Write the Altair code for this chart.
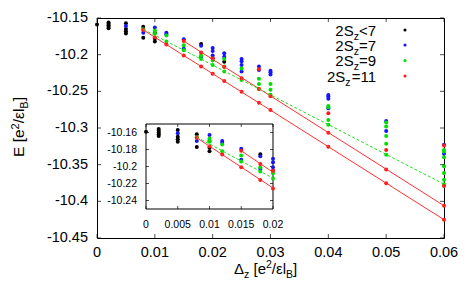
import altair as alt
import pandas as pd

FONT = "Liberation Sans"

# ---------------- data ----------------
series_names = ["2Sz<7", "2Sz=7", "2Sz=9", "2Sz=11"]
series_colors = ["#000000", "#1414ff", "#00e000", "#ff1a1a"]

black_x = [0, 0.002, 0.002, 0.002, 0.002, 0.002, 0.005, 0.005, 0.005, 0.005,
           0.008, 0.008, 0.01, 0.01, 0.01, 0.018, 0.02, 0.022]
black_E = [-10.159, -10.156, -10.158, -10.160, -10.162, -10.164, -10.157, -10.165, -10.168, -10.171,
           -10.162, -10.177, -10.170, -10.178, -10.182, -10.1855, -10.205, -10.2095]

blue_x = [0.005, 0.008, 0.01, 0.012, 0.012, 0.015, 0.015, 0.018, 0.018, 0.02, 0.02, 0.02,
          0.022, 0.022, 0.025, 0.025, 0.025, 0.025, 0.028, 0.028, 0.03, 0.03, 0.03,
          0.04, 0.04, 0.04, 0.04, 0.05, 0.05, 0.06, 0.06]
blue_E = [-10.161, -10.170, -10.163, -10.170, -10.172, -10.179, -10.192, -10.188, -10.203,
          -10.191, -10.195, -10.201, -10.198, -10.203, -10.206, -10.209, -10.214, -10.223,
          -10.216, -10.221, -10.222, -10.224, -10.227, -10.255, -10.257, -10.260, -10.273,
          -10.2905, -10.304, -10.323, -10.335]

green_x = [0.008, 0.01, 0.01, 0.012, 0.012, 0.015, 0.015, 0.018, 0.018, 0.02, 0.02,
           0.022, 0.022, 0.022, 0.025, 0.025, 0.028, 0.028, 0.028, 0.03, 0.03, 0.03,
           0.04, 0.04, 0.04, 0.04, 0.05, 0.05, 0.05, 0.05, 0.05,
           0.06, 0.06, 0.06, 0.06, 0.06, 0.06, 0.06]
green_E = [-10.1655, -10.167, -10.171, -10.174, -10.182, -10.187, -10.194, -10.201, -10.206,
           -10.208, -10.214, -10.206, -10.216, -10.223, -10.219, -10.2345, -10.233, -10.240,
           -10.2467, -10.240, -10.248, -10.2548, -10.270, -10.2716, -10.289, -10.2955,
           -10.2926, -10.298, -10.311, -10.3216, -10.3365,
           -10.330, -10.332, -10.340, -10.352, -10.3615, -10.3706, -10.3766]

red_x = [0.008, 0.01, 0.012, 0.015, 0.015, 0.018, 0.018, 0.02, 0.02, 0.022, 0.022,
         0.025, 0.025, 0.028, 0.028, 0.028, 0.03, 0.03, 0.04, 0.04, 0.04,
         0.05, 0.05, 0.05, 0.06, 0.06, 0.06, 0.06]
red_E = [-10.1663, -10.1763, -10.186, -10.1815, -10.201, -10.197, -10.216, -10.205, -10.226,
         -10.2168, -10.236, -10.232, -10.2505, -10.220, -10.2467, -10.2656, -10.2567, -10.2753,
         -10.280, -10.3066, -10.3255, -10.330, -10.3565, -10.3753, -10.324, -10.379, -10.406, -10.425]

# linear fits (main panel)
fit_lower_x = [0.008, 0.06]
fit_lower_E = [-10.1663, -10.425]
fit_upper_x = [0.015, 0.06]
fit_upper_E = [-10.1815, -10.406]
fit_green_x = [0.008, 0.06]
fit_green_E = [-10.1655, -10.3766]

# same fits as drawn inside the inset (0 .. 0.02)
inset_lower_x = [0.008, 0.02]
inset_lower_E = [-10.1663, -10.2253]
inset_upper_x = [0.015, 0.02]
inset_upper_E = [-10.1815, -10.2068]
inset_green_x = [0.008, 0.02]
inset_green_E = [-10.1655, -10.2137]

x_ticks = [0, 0.01, 0.02, 0.03, 0.04, 0.05, 0.06]
x_tick_labels = ["0", "0.01", "0.02", "0.03", "0.04", "0.05", "0.06"]
y_ticks = [-10.45, -10.4, -10.35, -10.3, -10.25, -10.2, -10.15]
y_tick_labels = ["-10.45", "-10.4", "-10.35", "-10.3", "-10.25", "-10.2", "-10.15"]

inset_x_ticks = [0, 0.005, 0.01, 0.015, 0.02]
inset_x_tick_labels = ["0", "0.005", "0.01", "0.015", "0.02"]
inset_y_ticks = [-10.24, -10.22, -10.2, -10.18, -10.16]
inset_y_tick_labels = ["-10.24", "-10.22", "-10.2", "-10.18", "-10.16"]

legend_rows = [("2S", "z", "<7"), ("2S", "z", "=7"), ("2S", "z", "=9"), ("2S", "z", "=11")]

# ---------------- tables ----------------
pts = pd.concat([
    pd.DataFrame({"x": black_x, "E": black_E, "series": series_names[0]}),
    pd.DataFrame({"x": blue_x, "E": blue_E, "series": series_names[1]}),
    pd.DataFrame({"x": green_x, "E": green_E, "series": series_names[2]}),
    pd.DataFrame({"x": red_x, "E": red_E, "series": series_names[3]}),
], ignore_index=True)

red_fits = pd.concat([
    pd.DataFrame({"x": fit_lower_x, "E": fit_lower_E, "fit": "lower"}),
    pd.DataFrame({"x": fit_upper_x, "E": fit_upper_E, "fit": "upper"}),
], ignore_index=True)
green_fit = pd.DataFrame({"x": fit_green_x, "E": fit_green_E})

ins_red_fits = pd.concat([
    pd.DataFrame({"x": inset_lower_x, "E": inset_lower_E, "fit": "lower"}),
    pd.DataFrame({"x": inset_upper_x, "E": inset_upper_E, "fit": "upper"}),
], ignore_index=True)
ins_green_fit = pd.DataFrame({"x": inset_green_x, "E": inset_green_E})

xt = pd.DataFrame({"v": x_ticks, "label": x_tick_labels})
yt = pd.DataFrame({"v": y_ticks, "label": y_tick_labels})
ixt = pd.DataFrame({"v": inset_x_ticks, "label": inset_x_tick_labels})
iyt = pd.DataFrame({"v": inset_y_ticks, "label": inset_y_tick_labels})
one = pd.DataFrame({"a": [0]})

# ---------------- scales ----------------
XM = alt.Scale(domain=[0, 0.06], nice=False, zero=False)
YM = alt.Scale(domain=[-10.45, -10.15], nice=False, zero=False)
XI = alt.Scale(domain=[0, 0.02], range=[49, 176], nice=False, zero=False)
YI = alt.Scale(domain=[-10.25, -10.15], range=[191, 106], nice=False, zero=False)
CS = alt.Scale(domain=series_names, range=series_colors)

W = {'2': 556, 'S': 667, 'z': 500, '<': 584, '=': 584, '7': 556, '9': 556, '1': 556,
     'E': 667, ' ': 278, '[': 278, 'e': 556, '/': 278, 'ε': 446, 'l': 222, 'B': 667,
     ']': 278, 'Δ': 668}


def tw(s, size):
    return sum(W.get(c, 556) for c in s) * size / 1000.0


def xdat(v, sc):
    return alt.XDatum(v, scale=sc, axis=None, type="quantitative")


def ydat(v, sc):
    return alt.YDatum(v, scale=sc, axis=None, type="quantitative")


# ---------------- main panel ----------------
main_layers = []
main_layers.append(
    alt.Chart(pts).mark_circle(size=16, opacity=1).encode(
        x=alt.X("x:Q", scale=XM, axis=None),
        y=alt.Y("E:Q", scale=YM, axis=None),
        color=alt.Color("series:N", scale=CS, legend=None),
    )
)
main_layers.append(
    alt.Chart(red_fits).mark_line(color="#ff3030", strokeWidth=1).encode(
        x=alt.X("x:Q", scale=XM, axis=None), y=alt.Y("E:Q", scale=YM, axis=None), detail="fit:N"
    )
)
main_layers.append(
    alt.Chart(green_fit).mark_line(color="#22dd22", strokeWidth=1, strokeDash=[3, 2]).encode(
        x=alt.X("x:Q", scale=XM, axis=None), y=alt.Y("E:Q", scale=YM, axis=None)
    )
)
# ticks (inward, mirrored)
main_layers.append(alt.Chart(xt).mark_tick(orient="vertical", size=4, thickness=1, color="black", yOffset=-2)
                   .encode(x=alt.X("v:Q", scale=XM, axis=None), y=ydat(-10.45, YM)))
main_layers.append(alt.Chart(xt).mark_tick(orient="vertical", size=4, thickness=1, color="black", yOffset=2)
                   .encode(x=alt.X("v:Q", scale=XM, axis=None), y=ydat(-10.15, YM)))
main_layers.append(alt.Chart(yt).mark_tick(orient="horizontal", size=4, thickness=1, color="black", xOffset=2)
                   .encode(y=alt.Y("v:Q", scale=YM, axis=None), x=xdat(0, XM)))
main_layers.append(alt.Chart(yt).mark_tick(orient="horizontal", size=4, thickness=1, color="black", xOffset=-2)
                   .encode(y=alt.Y("v:Q", scale=YM, axis=None), x=xdat(0.06, XM)))
# tick labels
main_layers.append(alt.Chart(xt).mark_text(font=FONT, fontSize=14.5, align="center", baseline="middle", dy=15)
                   .encode(x=alt.X("v:Q", scale=XM, axis=None), y=ydat(-10.45, YM), text="label:N"))
main_layers.append(alt.Chart(yt).mark_text(font=FONT, fontSize=14.5, align="right", baseline="middle", dx=-9)
                   .encode(y=alt.Y("v:Q", scale=YM, axis=None), x=xdat(0, XM), text="label:N"))


# axis titles built from pieces (sub/superscripts); gap = blank space before a piece
def title_pieces(parts, ax, ay, angle):
    out = []
    off = 0.0
    for txt, size, shift, gap in parts:
        off += gap
        kw = dict(font=FONT, fontSize=size, align="left", baseline="alphabetic", dx=off, text=txt)
        if shift:
            kw["dy"] = shift
        if angle:
            kw["angle"] = angle
        out.append(alt.Chart(one).mark_text(**kw).encode(x=alt.value(ax), y=alt.value(ay)))
        off += tw(txt, size)
    return out


x_title = [("Δ", 15, 0, 0), ("z", 10.5, 4, 0), ("[e", 15, 0, 4.2), ("2", 10.5, -6, 0),
           ("/εl", 15, 0, 0), ("B", 10.5, 4, 0), ("]", 15, 0, 0)]
y_title = [("E", 15.5, 0, 0), ("[e", 15.5, 0, 4.3), ("2", 11, -5.5, 0), ("/εl", 15.5, 0, 0),
           ("B", 11, 4, 0), ("]", 15.5, 0, 0)]
main_layers += title_pieces(x_title, 137, 256, 0)
main_layers += title_pieces(y_title, -73, 139, 270)

# legend
LEG_END = 279
LEG_SYM = 308
row_y = [12, 27, 42.5, 58]
for i, (a, sub, rest) in enumerate(legend_rows):
    base = row_y[i] + 5.5
    wr = tw(rest, 15)
    wz = tw(sub, 10.5)
    main_layers.append(alt.Chart(one).mark_text(font=FONT, fontSize=15, align="right", baseline="alphabetic", text=rest)
                       .encode(x=alt.value(LEG_END), y=alt.value(base)))
    main_layers.append(alt.Chart(one).mark_text(font=FONT, fontSize=10.5, align="right", baseline="alphabetic",
                                                text=sub, dx=-wr, dy=4)
                       .encode(x=alt.value(LEG_END), y=alt.value(base)))
    main_layers.append(alt.Chart(one).mark_text(font=FONT, fontSize=15, align="right", baseline="alphabetic",
                                                text=a, dx=-wr - wz)
                       .encode(x=alt.value(LEG_END), y=alt.value(base)))
    main_layers.append(alt.Chart(one).mark_circle(size=10, opacity=1, color=series_colors[i])
                       .encode(x=alt.value(LEG_SYM), y=alt.value(row_y[i])))

main = alt.layer(*main_layers)

# ---------------- inset ----------------
ins_layers = []
ins_layers.append(alt.Chart(one).mark_rect(fill="white", stroke="black", strokeWidth=1).encode(
    x=xdat(0, XI), x2=alt.X2Datum(0.02), y=ydat(-10.25, YI), y2=alt.Y2Datum(-10.15)))
ins_layers.append(alt.Chart(ixt).mark_tick(orient="vertical", size=3, thickness=1, color="black", yOffset=-1.5)
                  .encode(x=alt.X("v:Q", scale=XI, axis=None), y=ydat(-10.25, YI)))
ins_layers.append(alt.Chart(ixt).mark_tick(orient="vertical", size=3, thickness=1, color="black", yOffset=1.5)
                  .encode(x=alt.X("v:Q", scale=XI, axis=None), y=ydat(-10.15, YI)))
ins_layers.append(alt.Chart(iyt).mark_tick(orient="horizontal", size=3, thickness=1, color="black", xOffset=1.5)
                  .encode(y=alt.Y("v:Q", scale=YI, axis=None), x=xdat(0, XI)))
ins_layers.append(alt.Chart(iyt).mark_tick(orient="horizontal", size=3, thickness=1, color="black", xOffset=-1.5)
                  .encode(y=alt.Y("v:Q", scale=YI, axis=None), x=xdat(0.02, XI)))
ins_layers.append(alt.Chart(ixt).mark_text(font=FONT, fontSize=10.5, align="center", baseline="middle", dy=16)
                  .encode(x=alt.X("v:Q", scale=XI, axis=None), y=ydat(-10.25, YI), text="label:N"))
ins_layers.append(alt.Chart(iyt).mark_text(font=FONT, fontSize=10.5, align="right", baseline="middle", dx=-9)
                  .encode(y=alt.Y("v:Q", scale=YI, axis=None), x=xdat(0, XI), text="label:N"))
ins_layers.append(
    alt.Chart(pts).transform_filter("datum.x <= 0.0201").mark_circle(size=16, opacity=1).encode(
        x=alt.X("x:Q", scale=XI, axis=None),
        y=alt.Y("E:Q", scale=YI, axis=None),
        color=alt.Color("series:N", scale=CS, legend=None),
    )
)
ins_layers.append(
    alt.Chart(ins_red_fits).mark_line(color="#ff3030", strokeWidth=1).encode(
        x=alt.X("x:Q", scale=XI, axis=None), y=alt.Y("E:Q", scale=YI, axis=None), detail="fit:N"
    )
)
ins_layers.append(
    alt.Chart(ins_green_fit).mark_line(color="#22dd22", strokeWidth=1, strokeDash=[3, 2]).encode(
        x=alt.X("x:Q", scale=XI, axis=None), y=alt.Y("E:Q", scale=YI, axis=None)
    )
)
inset = alt.layer(*ins_layers)

chart = alt.layer(main, inset).resolve_scale(x="independent", y="independent").properties(
    width=347, height=220,
    autosize=alt.AutoSizeParams(type="none"),
    padding={"left": 89, "top": 10, "right": 19, "bottom": 45},
    background="white",
).configure_view(stroke="black", strokeWidth=1)

chart.save("out.html", embed_options={"renderer": "svg", "actions": False})
